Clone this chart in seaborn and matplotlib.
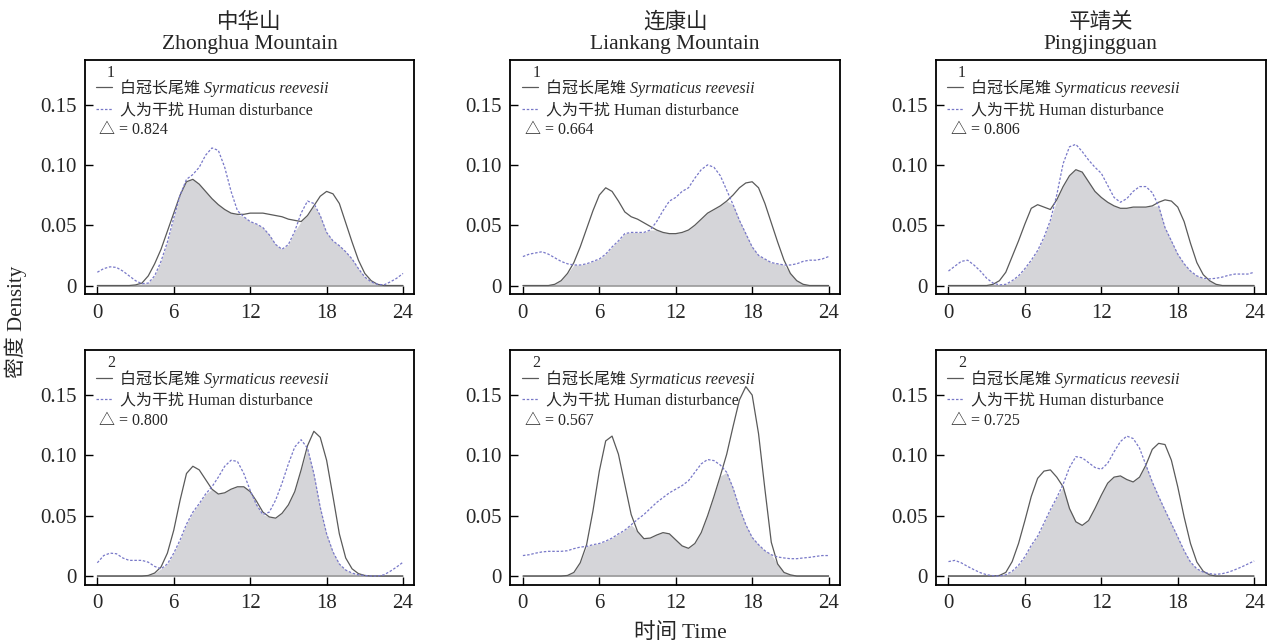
import numpy as np
import matplotlib
matplotlib.use("Agg")
import matplotlib.pyplot as plt
import seaborn as sns

sns.set_theme(style="ticks")
plt.rcParams['font.family'] = ['Liberation Serif', 'Noto Sans CJK SC']
plt.rcParams['axes.unicode_minus'] = False

# time of day, half-hour steps
hours = [i / 2 for i in range(49)]

sites = ["中华山\nZhonghua Mountain", "连康山\nLiankang Mountain", "平靖关\nPingjingguan"]
period_labels = ["1", "2"]
overlap = [["0.824", "0.664", "0.806"],
           ["0.800", "0.567", "0.725"]]

# Syrmaticus reevesii density, period 1
bird_1_zh = [0, 0, 0, 0, 0, 0, 0.0005, 0.002, 0.008, 0.018, 0.030, 0.045, 0.060, 0.075, 0.086, 0.088,
             0.084, 0.078, 0.072, 0.067, 0.063, 0.060, 0.059, 0.059, 0.060, 0.060, 0.060, 0.059, 0.058,
             0.057, 0.055, 0.054, 0.053, 0.058, 0.066, 0.074, 0.078, 0.076, 0.068, 0.052, 0.036, 0.021,
             0.010, 0.004, 0.001, 0, 0, 0, 0]
bird_1_lk = [0, 0, 0, 0, 0, 0.001, 0.004, 0.010, 0.019, 0.032, 0.047, 0.062, 0.075, 0.081, 0.078, 0.070,
             0.061, 0.057, 0.055, 0.052, 0.049, 0.046, 0.044, 0.043, 0.043, 0.044, 0.046, 0.050, 0.055,
             0.060, 0.063, 0.066, 0.070, 0.075, 0.081, 0.085, 0.086, 0.081, 0.068, 0.052, 0.036, 0.021,
             0.010, 0.004, 0.001, 0, 0, 0, 0]
bird_1_pj = [0, 0, 0, 0, 0, 0, 0, 0.001, 0.004, 0.011, 0.024, 0.037, 0.051, 0.064, 0.067, 0.065,
             0.063, 0.071, 0.082, 0.091, 0.096, 0.094, 0.086, 0.078, 0.073, 0.069, 0.066, 0.064, 0.064,
             0.065, 0.065, 0.065, 0.066, 0.069, 0.071, 0.070, 0.065, 0.053, 0.035, 0.019, 0.009, 0.004,
             0.001, 0, 0, 0, 0, 0, 0]
# human disturbance density, period 1
human_1_zh = [0.011, 0.014, 0.0155, 0.015, 0.012, 0.008, 0.004, 0.0015, 0.002, 0.008, 0.020, 0.036,
              0.056, 0.075, 0.088, 0.092, 0.098, 0.108, 0.114, 0.112, 0.098, 0.078, 0.062, 0.057, 0.053,
              0.051, 0.048, 0.042, 0.034, 0.030, 0.034, 0.045, 0.060, 0.070, 0.068, 0.058, 0.044, 0.037,
              0.033, 0.028, 0.022, 0.014, 0.007, 0.003, 0.001, 0.0005, 0.003, 0.006, 0.010]
human_1_lk = [0.024, 0.026, 0.027, 0.028, 0.026, 0.023, 0.020, 0.018, 0.017, 0.017, 0.018, 0.020,
              0.022, 0.026, 0.032, 0.037, 0.043, 0.044, 0.044, 0.044, 0.046, 0.053, 0.062, 0.070, 0.073,
              0.078, 0.081, 0.089, 0.096, 0.100, 0.098, 0.091, 0.079, 0.067, 0.054, 0.043, 0.032, 0.025,
              0.022, 0.019, 0.018, 0.017, 0.017, 0.018, 0.020, 0.021, 0.021, 0.022, 0.024]
human_1_pj = [0.012, 0.016, 0.020, 0.021, 0.017, 0.012, 0.006, 0.002, 0.0005, 0.001, 0.004, 0.008,
              0.014, 0.021, 0.029, 0.040, 0.054, 0.075, 0.101, 0.115, 0.117, 0.111, 0.104, 0.098, 0.093,
              0.083, 0.073, 0.069, 0.072, 0.078, 0.082, 0.082, 0.077, 0.066, 0.048, 0.037, 0.026, 0.018,
              0.012, 0.008, 0.006, 0.0055, 0.006, 0.007, 0.0085, 0.0095, 0.0095, 0.0095, 0.011]

# Syrmaticus reevesii density, period 2
bird_2_zh = [0, 0, 0, 0, 0, 0, 0, 0, 0.0005, 0.0025, 0.0075, 0.019, 0.038, 0.063, 0.085, 0.091,
             0.088, 0.080, 0.072, 0.068, 0.069, 0.072, 0.074, 0.074, 0.070, 0.062, 0.053, 0.049, 0.048,
             0.052, 0.059, 0.070, 0.088, 0.108, 0.120, 0.115, 0.096, 0.066, 0.035, 0.015, 0.006, 0.002,
             0.0005, 0, 0, 0, 0, 0, 0]
bird_2_lk = [0, 0, 0, 0, 0, 0, 0, 0.0005, 0.003, 0.011, 0.026, 0.054, 0.087, 0.112, 0.116, 0.101,
             0.076, 0.051, 0.037, 0.031, 0.0315, 0.034, 0.036, 0.035, 0.030, 0.025, 0.023, 0.027, 0.036,
             0.050, 0.066, 0.083, 0.101, 0.124, 0.146, 0.157, 0.150, 0.118, 0.072, 0.028, 0.010, 0.003,
             0.001, 0, 0, 0, 0, 0, 0]
bird_2_pj = [0, 0, 0, 0, 0, 0, 0, 0, 0.0005, 0.003, 0.012, 0.027, 0.046, 0.066, 0.081, 0.087,
             0.088, 0.082, 0.074, 0.056, 0.045, 0.042, 0.046, 0.056, 0.067, 0.077, 0.082, 0.083, 0.080,
             0.078, 0.082, 0.092, 0.105, 0.110, 0.109, 0.096, 0.074, 0.049, 0.027, 0.0116, 0.004, 0.001,
             0, 0, 0, 0, 0, 0, 0]
# human disturbance density, period 2
human_2_zh = [0.011, 0.017, 0.019, 0.0185, 0.015, 0.013, 0.013, 0.013, 0.0115, 0.008, 0.006, 0.010,
              0.019, 0.030, 0.043, 0.053, 0.060, 0.068, 0.074, 0.082, 0.091, 0.096, 0.095, 0.085, 0.071,
              0.059, 0.051, 0.053, 0.063, 0.077, 0.093, 0.107, 0.113, 0.106, 0.085, 0.057, 0.035, 0.020,
              0.010, 0.005, 0.0025, 0.001, 0.0005, 0, 0, 0.001, 0.004, 0.0075, 0.0115]
human_2_lk = [0.017, 0.0177, 0.019, 0.020, 0.0205, 0.0205, 0.0205, 0.021, 0.0227, 0.024, 0.0246, 0.026,
              0.027, 0.029, 0.0315, 0.035, 0.038, 0.0425, 0.047, 0.051, 0.056, 0.061, 0.065, 0.069,
              0.072, 0.075, 0.079, 0.086, 0.093, 0.0966, 0.0957, 0.092, 0.086, 0.073, 0.0565, 0.0426,
              0.032, 0.026, 0.021, 0.0177, 0.0158, 0.015, 0.0144, 0.0144, 0.015, 0.0155, 0.0163, 0.017,
              0.017]
human_2_pj = [0.012, 0.013, 0.011, 0.008, 0.0053, 0.0028, 0.0011, 0.0003, 0, 0.001, 0.004, 0.009,
              0.016, 0.0255, 0.033, 0.044, 0.055, 0.065, 0.076, 0.090, 0.099, 0.098, 0.094, 0.090,
              0.0885, 0.0935, 0.103, 0.1115, 0.116, 0.114, 0.106, 0.092, 0.078, 0.066, 0.0546, 0.0435,
              0.0324, 0.021, 0.0116, 0.006, 0.0033, 0.002, 0.0014, 0.002, 0.0033, 0.0053, 0.0075, 0.010,
              0.0125]

bird = [[bird_1_zh, bird_1_lk, bird_1_pj], [bird_2_zh, bird_2_lk, bird_2_pj]]
human = [[human_1_zh, human_1_lk, human_1_pj], [human_2_zh, human_2_lk, human_2_pj]]

xticks = [0, 6, 12, 18, 24]
yticks = [0, 0.05, 0.10, 0.15]
ytick_labels = ["0", "0.05", "0.10", "0.15"]

bird_label = "白冠长尾雉 Syrmaticus reevesii"
human_label = "人为干扰 Human disturbance"

SOLID = "#5a5a5a"
DASH = "#7878c8"
FILL = "#d5d5d9"

fig, axes = plt.subplots(2, 3, figsize=(12.72, 6.44), dpi=100)
fig.subplots_adjust(left=0.0665, right=0.995, bottom=0.092, top=0.907, wspace=0.29, hspace=0.24)

for r in range(2):
    for c in range(3):
        ax = axes[r, c]
        s = np.array(bird[r][c])
        h = np.array(human[r][c])
        ax.fill_between(hours, 0, np.minimum(s, h), color=FILL, lw=0, zorder=1)
        ax.hlines(0, hours[0], hours[-1], color="#9a9a9a", lw=1.2, zorder=2)
        sns.lineplot(x=hours, y=s, ax=ax, color=SOLID, lw=0.9, label=bird_label, zorder=3)
        sns.lineplot(x=hours, y=h, ax=ax, color=DASH, lw=0.9, linestyle=(0, (2.0, 1.4)),
                     label=human_label, zorder=3)

        ax.set_xlim(-1.0, 24.9)
        ax.set_ylim(-0.0072, 0.187)
        ax.set_xticks(xticks)
        ax.set_xticklabels([str(t) for t in xticks])
        ax.set_yticks(yticks)
        ax.set_yticklabels(ytick_labels)
        ax.tick_params(direction="in", length=6, width=1, labelsize=15, color="black")
        ax.tick_params(axis="x", pad=7)
        ax.tick_params(axis="y", pad=6)
        ax.set_xlabel("")
        ax.set_ylabel("")
        for sp in ax.spines.values():
            sp.set_visible(True)
            sp.set_linewidth(1.3)
            sp.set_color("black")

        leg = ax.legend(loc="upper left", bbox_to_anchor=(0.035, 0.917), frameon=False, fontsize=11.5,
                        handlelength=1.0, handletextpad=0.5, labelspacing=0.33,
                        borderaxespad=0, borderpad=0)
        leg.get_texts()[0].set_fontstyle("italic")

        ax.text(0.08, 0.945, period_labels[r], transform=ax.transAxes, ha="center", va="center",
                fontsize=11.5)
        ax.text(0.045, 0.70, "△ = " + overlap[r][c], transform=ax.transAxes, ha="left",
                va="center", fontsize=11.5)

        if r == 0:
            ax.set_title(sites[c], fontsize=15.5, pad=8, linespacing=1.12)

fig.text(0.012, 0.5, "密度 Density", rotation=90, ha="center", va="center", fontsize=15)
fig.text(0.535, 0.017, "时间 Time", ha="center", va="center", fontsize=15.5)

fig.savefig("out.png", dpi=100)
